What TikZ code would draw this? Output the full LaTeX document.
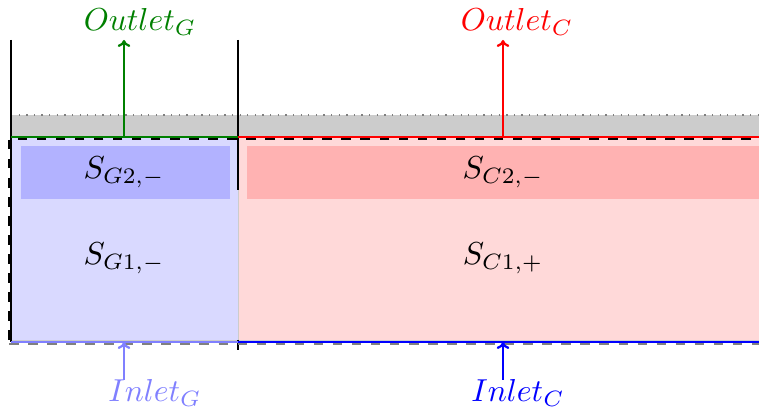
\documentclass[tikz,border=0pt]{standalone}
\usetikzlibrary{arrows.meta}
\begin{document}
\begin{tikzpicture}[x=0.315pt,y=-0.315pt,
  wall/.style={draw=black,line width=0.6pt},
  flow/.style={-{To[length=2.2pt,width=4pt]},line width=0.7pt},
  lbl/.style={inner sep=0pt,font=\normalsize}]
\useasboundingbox (0,0) rectangle (759,409);
\clip (0,0) rectangle (759,409);
% fills
\fill[blue!15] (11,137) rectangle (238,342);
\fill[red!15] (238,137) rectangle (770,342);
\draw[gray!40,line width=0.3pt] (238,137) -- (238,342);
\draw[gray!40,line width=0.3pt] (11,340) -- (770,340);
\fill[blue!30] (21,146) rectangle (230,199);
\fill[red!30] (247,146) rectangle (770,199);
% gray band
\fill[gray!40] (11,115) rectangle (770,137);
\draw[gray,dotted,line width=0.4pt] (11,115) -- (770,115);
% walls
\draw[wall] (11,40) -- (11,342);
\draw[wall] (238,40) -- (238,190);
\draw[wall] (238,340) -- (238,350);
% dashed outline
\draw[black,dashed,line width=0.4pt] (770,139) -- (9,139) -- (9,344);
\draw[gray,dashed,line width=0.5pt] (9,344) -- (770,344);
% outlet / inlet lines
\draw[green!50!black,line width=0.7pt] (11,137) -- (238,137);
\draw[red,line width=0.7pt] (238,137) -- (770,137);
\draw[blue!50,line width=0.7pt] (11,342) -- (238,342);
\draw[blue,line width=0.7pt] (238,342) -- (770,342);
% labels
\node[lbl] (sg2) at (124,172) {$S_{G2,-}$};
\node[lbl] (sg1) at (124,258) {$S_{G1,-}$};
\node[lbl] (sc2) at (503,172) {$S_{C2,-}$};
\node[lbl] (sc1) at (503,258) {$S_{C1,+}$};
\node[lbl,text=green!50!black] (og) at (140,22) {$Outlet_G$};
\node[lbl,text=red] (oc) at (517,22) {$Outlet_C$};
\node[lbl,text=blue!50] (ig) at (155,393) {$Inlet_G$};
\node[lbl,text=blue] (ic) at (518,393) {$Inlet_C$};
% arrows
\coordinate (ogs) at (124,137);
\coordinate (oge) at (124,40);
\coordinate (ocs) at (503,137);
\coordinate (oce) at (503,40);
\coordinate (igs) at (124,380);
\coordinate (ige) at (124,342);
\coordinate (ics) at (503,380);
\coordinate (ice) at (503,342);
\draw[flow,green!50!black] (ogs) -- (oge);
\draw[flow,red] (ocs) -- (oce);
\draw[flow,blue!50] (igs) -- (ige);
\draw[flow,blue] (ics) -- (ice);
\end{tikzpicture}
\end{document}
